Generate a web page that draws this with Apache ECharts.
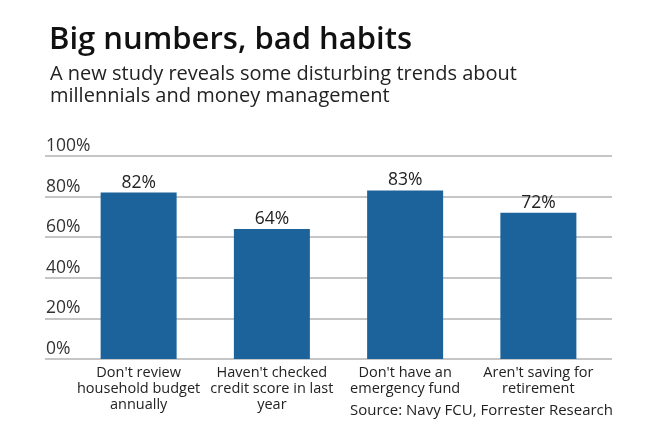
<!DOCTYPE html>
<html>
<head>
<meta charset="utf-8">
<script src="https://cdn.jsdelivr.net/npm/echarts@6/dist/echarts.min.js"></script>
<style>
  html, body { margin: 0; padding: 0; background: #fff; }
  #chart { width: 667px; height: 434px; }
</style>
</head>
<body>
<div id="chart"></div>
<script>
// categories and values
var categories = [
  "Don't review\nhousehold budget\nannually",
  "Haven't checked\ncredit score in last\nyear",
  "Don't have an\nemergency fund",
  "Aren't saving for\nretirement"
]
var shares = [82, 64, 83, 72]
var yTicks = [0, 20, 40, 60, 80, 100]

var font = 'Open Sans'
var chart = echarts.init(document.getElementById('chart'))

var opt = {
  backgroundColor: '#fff',
  textStyle: { fontFamily: font },
  title: [{
    text: 'Big numbers, bad habits',
    left: 44,
    top: 20,
    textStyle: { fontFamily: font, fontSize: 31, fontWeight: 600, color: '#111', lineHeight: 31 }
  }, {
    text: 'A new study reveals some disturbing trends about\nmillennials and money management',
    left: 45,
    top: 58,
    textStyle: { fontFamily: font, fontSize: 20, fontWeight: 'normal', color: '#222', lineHeight: 22 }
  }],
  graphic: [{
    type: 'text',
    right: 54,
    top: 403,
    style: {
      text: 'Source: Navy FCU, Forrester Research',
      font: '15px ' + font,
      fill: '#222'
    }
  }],
  grid: [
    { left: 45, right: 55, top: 156, bottom: 75 },   // gridlines and tick labels
    { left: 72, right: 62, top: 156, bottom: 75 }    // bars
  ],
  xAxis: [{
    gridIndex: 0,
    type: 'value',
    show: false
  }, {
    gridIndex: 1,
    type: 'category',
    data: categories,
    axisLine: { show: false },
    axisTick: { show: false },
    axisLabel: {
      interval: 0,
      color: '#222',
      fontSize: 14.5,
      lineHeight: 16,
      margin: 6,
      fontFamily: font
    }
  }],
  yAxis: [{
    gridIndex: 0,
    type: 'value',
    min: yTicks[0],
    max: yTicks[yTicks.length - 1],
    interval: 20,
    axisLine: { show: false },
    axisTick: { show: false },
    splitLine: { lineStyle: { color: '#b3b3b3', width: 1.5 } },
    axisLabel: {
      inside: true,
      margin: 1,
      verticalAlign: 'bottom',
      padding: [0, 0, 1, 0],
      formatter: '{value}%',
      fontSize: 17.5,
      color: '#333',
      fontFamily: font
    }
  }, {
    gridIndex: 1,
    type: 'value',
    min: 0,
    max: 100,
    show: false
  }],
  series: [{
    type: 'bar',
    xAxisIndex: 1,
    yAxisIndex: 1,
    data: shares,
    barWidth: 76,
    itemStyle: { color: '#1c639c' },
    label: {
      show: true,
      position: 'top',
      distance: 1,
      formatter: '{c}%',
      fontSize: 17.5,
      color: '#222',
      fontFamily: font
    }
  }]
}

chart.setOption(opt)
</script>
</body>
</html>
